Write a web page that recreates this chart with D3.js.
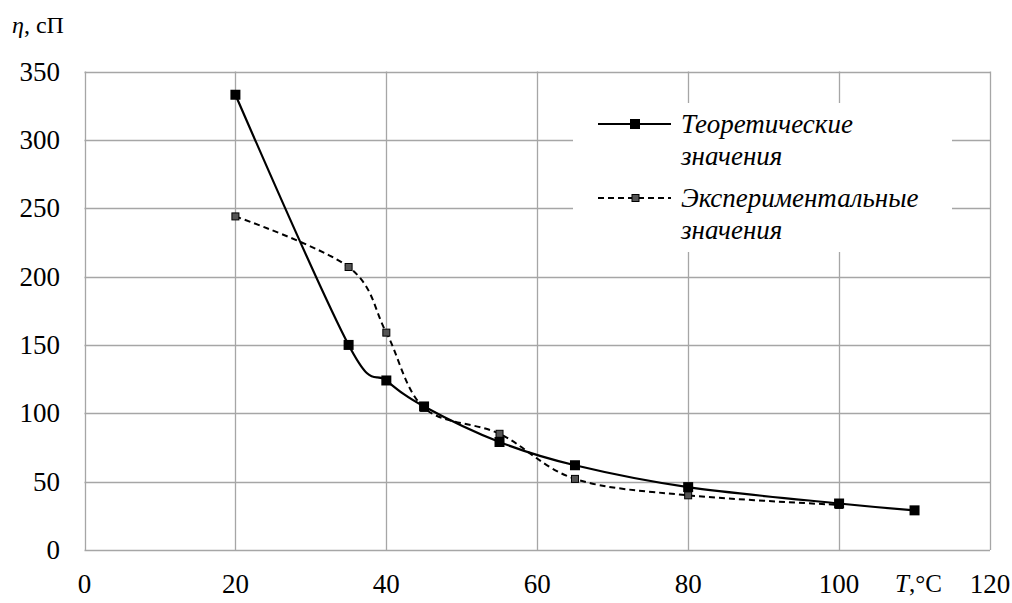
<!DOCTYPE html>
<html><head><meta charset="utf-8">
<script src="https://cdn.jsdelivr.net/npm/d3@7"></script>
<style>body{margin:0;background:#fff}svg{display:block}
#chart text{font-family:"Liberation Serif","Times New Roman",serif;}</style>
</head><body>
<svg id="chart" width="1012" height="603" font-family="Liberation Serif, serif" style="font-family:'Liberation Serif',serif"></svg>
<script>
const theoT = [20, 35, 40, 45, 55, 65, 80, 100, 110];
const theoEta = [333, 150, 124, 105, 79, 62, 46, 34, 29];
const expT = [20, 35, 40, 45, 55, 65, 80, 100];
const expEta = [244, 207, 159, 104, 85, 52, 40, 33];
const xTicks = [0, 20, 40, 60, 80, 100, 120];
const yTicks = [0, 50, 100, 150, 200, 250, 300, 350];
const seriesNames = [["Теоретические", "значения"], ["Экспериментальные", "значения"]];

const ST = "font-family:'Liberation Serif';font-size:27px";
const STI = "font-family:'Liberation Serif';font-size:27px;font-style:italic";
const svg = d3.select("#chart");
const x = d3.scaleLinear().domain([0, 120]).range([84.5, 990]);
const y = d3.scaleLinear().domain([0, 350]).range([550, 71.5]);
const grid = "#a6a6a6";

// gridlines
svg.append("g").selectAll("line").data(yTicks).join("line")
  .attr("x1", x(0)).attr("x2", x(120))
  .attr("y1", d => Math.round(y(d)) + 0.5).attr("y2", d => Math.round(y(d)) + 0.5)
  .attr("stroke", grid).attr("stroke-width", 1.3);
svg.append("g").selectAll("line").data(xTicks).join("line")
  .attr("y1", y(0)).attr("y2", y(350))
  .attr("x1", d => Math.round(x(d)) + 0.5).attr("x2", d => Math.round(x(d)) + 0.5)
  .attr("stroke", grid).attr("stroke-width", 1.3);

// tick labels
svg.append("g").selectAll("text").data(yTicks).join("text")
  .attr("x", 60).attr("y", d => y(d) + 9)
  .attr("text-anchor", "end").attr("style", ST)
  .text(d => d);
svg.append("g").selectAll("text").data(xTicks).join("text")
  .attr("x", d => x(d)).attr("y", 593)
  .attr("text-anchor", "middle").attr("style", ST)
  .text(d => d);

// axis titles
const yt = svg.append("text").attr("x", 12).attr("y", 33).attr("style", "font-family:'Liberation Serif';font-size:24px");
yt.append("tspan").attr("style", "font-style:italic").text("η");
yt.append("tspan").text(", сП");
const xt = svg.append("text").attr("x", 895).attr("y", 592).attr("style", "font-family:'Liberation Serif';font-size:25px");
xt.append("tspan").attr("style", "font-style:italic").text("T");
xt.append("tspan").text(",°C");

// lines
const theo = theoT.map((t, i) => [t, theoEta[i]]);
const exp = expT.map((t, i) => [t, expEta[i]]);
const line = d3.line().x(d => x(d[0])).y(d => y(d[1])).curve(d3.curveCardinal.tension(0));
svg.append("path").attr("d", line(exp)).attr("fill", "none").attr("stroke", "#000")
  .attr("stroke-width", 2).attr("stroke-dasharray", "6,4");
svg.append("path").attr("d", line(theo)).attr("fill", "none").attr("stroke", "#000")
  .attr("stroke-width", 2.2);

svg.append("g").selectAll("rect").data(exp).join("rect")
  .attr("x", d => x(d[0]) - 3.5).attr("y", d => y(d[1]) - 3.5)
  .attr("width", 7).attr("height", 7).attr("fill", "#555").attr("stroke", "#000").attr("stroke-width", 1);
svg.append("g").selectAll("rect").data(theo).join("rect")
  .attr("x", d => x(d[0]) - 5).attr("y", d => y(d[1]) - 5)
  .attr("width", 10).attr("height", 10).attr("fill", "#000");

// legend
svg.append("rect").attr("x", 573).attr("y", 103).attr("width", 379).attr("height", 149).attr("fill", "#fff");
const lg = svg.append("g");
lg.append("line").attr("x1", 598).attr("x2", 671).attr("y1", 124).attr("y2", 124)
  .attr("stroke", "#000").attr("stroke-width", 2.2);
lg.append("rect").attr("x", 630).attr("y", 119).attr("width", 10).attr("height", 10).attr("fill", "#000");
lg.append("line").attr("x1", 598).attr("x2", 671).attr("y1", 198).attr("y2", 198)
  .attr("stroke", "#000").attr("stroke-width", 2).attr("stroke-dasharray", "6,4");
lg.append("rect").attr("x", 632).attr("y", 194.5).attr("width", 7).attr("height", 7)
  .attr("fill", "#555").attr("stroke", "#000");
[[124, 0], [198, 1]].forEach(([yy, i]) => {
  lg.append("text").attr("x", 681).attr("y", yy + 9).attr("style", STI).text(seriesNames[i][0]);
  lg.append("text").attr("x", 681).attr("y", yy + 41).attr("style", STI).text(seriesNames[i][1]);
});
</script>
</body></html>
